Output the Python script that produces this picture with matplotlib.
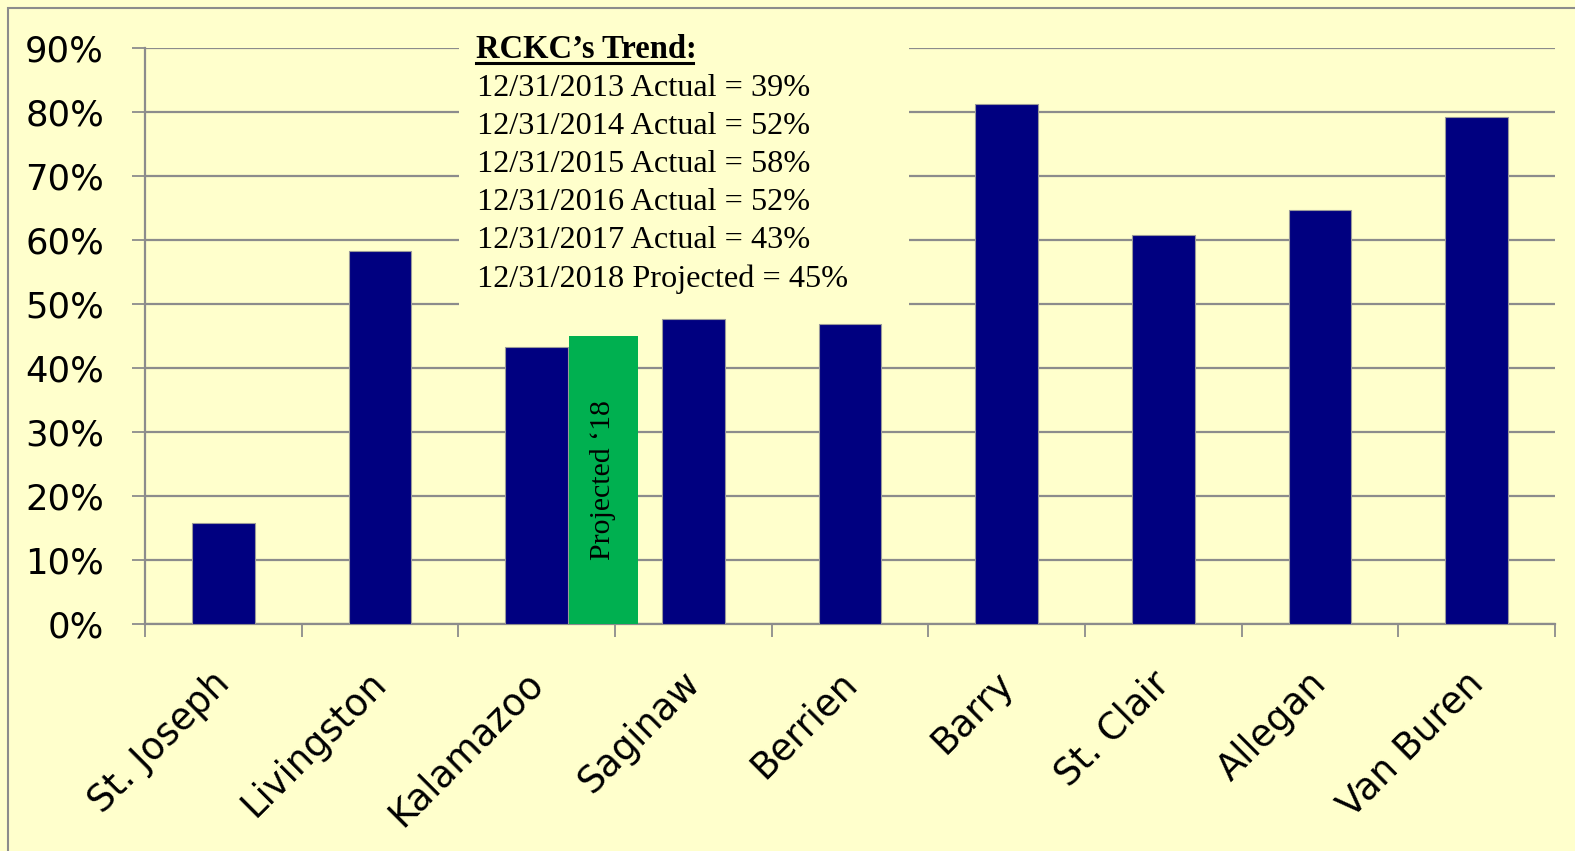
import numpy as np
import matplotlib.pyplot as plt
from matplotlib.patches import Rectangle
from matplotlib.transforms import ScaledTranslation

# ================================
# data
# ================================
counties = ["St. Joseph", "Livingston", "Kalamazoo", "Saginaw", "Berrien",
            "Barry", "St. Clair", "Allegan", "Van Buren"]
rates = [15.7, 58.3, 43.3, 47.6, 46.9, 81.2, 60.7, 64.7, 79.1]  # %

projected_county = "Kalamazoo"
projected_rate = 45.0  # %
projected_label = "Projected \u201818"

trend_title = "RCKC\u2019s Trend:"
trend_dates = ["12/31/2013", "12/31/2014", "12/31/2015",
               "12/31/2016", "12/31/2017", "12/31/2018"]
trend_kinds = ["Actual", "Actual", "Actual", "Actual", "Actual", "Projected"]
trend_values = [39, 52, 58, 52, 43, 45]

yticks = [0, 10, 20, 30, 40, 50, 60, 70, 80, 90]

# ================================
# style
# ================================
BG = "#FFFFCC"
NAVY = "#000080"
GREEN = "#00B050"
GRID = "#8C8C8C"
W, H = 1575, 851

def fx(px):
    return px / W

def fy(py):
    return 1 - py / H

fig = plt.figure(figsize=(W / 100, H / 100), dpi=100, facecolor=BG)
ax = fig.add_axes([fx(145), fy(624), fx(1555) - fx(145), fy(47.5) - fy(624)])
ax.set_facecolor(BG)

# outer frame (only top / left edge visible in the picture)
fig.add_artist(Rectangle((fx(8), -0.2), 1.5, fy(8) + 0.2, transform=fig.transFigure,
                         facecolor="none", edgecolor=GRID, linewidth=1.5, zorder=0))

x = np.arange(len(counties))
ax.bar(x, rates, width=0.40, color=NAVY, edgecolor="#9a9a9a", linewidth=0.8, zorder=3)

# projected bar beside Kalamazoo
k = counties.index(projected_county)
ax.bar(k + 0.425, projected_rate, width=0.44, color=GREEN, linewidth=0, zorder=3)
ax.text(k + 0.425, 22.5, projected_label, rotation=90, ha="center", va="center",
        fontsize=21.5, family="Liberation Serif", color="black", zorder=4)

ax.set_xlim(-0.5, len(counties) - 0.5)
ax.set_ylim(0, 90)
ax.set_yticks(yticks)
ax.set_yticklabels([f"{v}%" for v in yticks], fontsize=25.5, family="DejaVu Sans")
ax.yaxis.grid(True, color=GRID, linewidth=1.6, zorder=0)
ax.set_axisbelow(True)
ax.tick_params(axis="y", length=9.5, width=1.3, color=GRID, pad=20)

ax.set_xticks(x)
ax.set_xticklabels(counties, rotation=45, ha="right", va="top", fontsize=26.5,
                   family="DejaVu Sans")
ax.set_xticks(np.arange(len(counties) + 1) - 0.5, minor=True)
ax.tick_params(axis="x", which="major", length=0, pad=29)
ax.tick_params(axis="x", which="minor", length=9, width=1.3, color=GRID)
shift = ScaledTranslation(14 / 100, 0, fig.dpi_scale_trans)
for lab in ax.get_xticklabels():
    lab.set_transform(lab.get_transform() + shift)

for side in ["top", "right"]:
    ax.spines[side].set_visible(False)
for side in ["left", "bottom"]:
    ax.spines[side].set_color(GRID)
    ax.spines[side].set_linewidth(1.6)

# trend text box (covers the grid lines behind it)
fig.add_artist(Rectangle((fx(459), fy(312)), fx(909) - fx(459), fy(24) - fy(312),
                         transform=fig.transFigure, facecolor=BG, edgecolor="none",
                         zorder=2))
t = fig.text(fx(476), fy(50), trend_title, fontsize=23.5, fontweight="bold",
             family="Liberation Serif", ha="left", va="center", zorder=5)
fig.add_artist(plt.Line2D([fx(476), fx(693)], [fy(63), fy(63)], color="black",
                          linewidth=2.2, transform=fig.transFigure, zorder=5))
for i, (d, kind, v) in enumerate(zip(trend_dates, trend_kinds, trend_values)):
    fig.text(fx(477), fy(88 + i * 38.2), f"{d} {kind} = {v}%", fontsize=23.2,
             family="Liberation Serif", ha="left", va="center", zorder=5)

fig.savefig("out.png", dpi=100, facecolor=BG)
